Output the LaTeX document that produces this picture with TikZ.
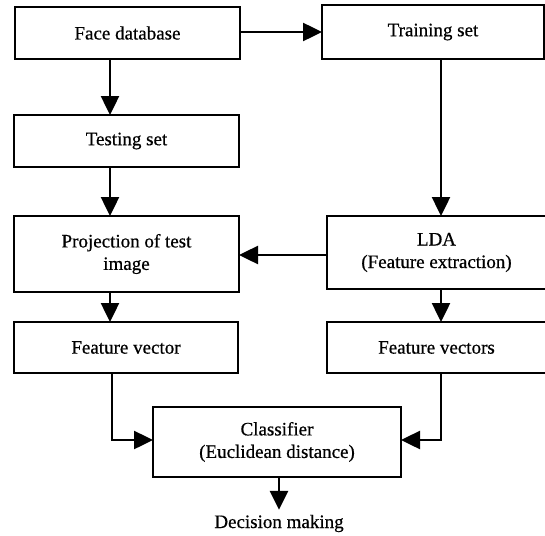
\documentclass[tikz,border=0pt]{standalone}
\usepackage{fontspec}
\setmainfont{Liberation Serif}
\newfontfamily\heavyserif{Liberation Serif}[FakeBold=0.6]
\usetikzlibrary{arrows.meta}
\begin{document}
\begin{tikzpicture}[x=1pt,y=-1pt,
  box/.style={draw,line width=2.5pt,inner sep=0pt,outer sep=0pt,align=center,
    font=\heavyserif\fontsize{19}{22.5}\selectfont},
  conn/.style={line width=2.5pt,-{Triangle[length=19pt,width=18pt]}},
  label/.style={inner sep=5pt,outer sep=0pt,font=\heavyserif\fontsize{19}{22.5}\selectfont}
]
\useasboundingbox (0,0) rectangle (545,535);
\node[box,minimum width=225pt,minimum height=52pt] (fdb) at (127.5,33) {Face database};
\node[box,minimum width=222pt,minimum height=54pt] (train) at (433,32) {Training set};
\node[box,minimum width=225pt,minimum height=52pt] (test) at (126.5,141) {Testing set};
\node[box,minimum width=225pt,minimum height=76pt] (proj) at (126.5,254) {Projection of test\\image};
\node[box,minimum width=219pt,minimum height=73pt] (lda) at (436.5,252.5) {LDA\\(Feature extraction)};
\node[box,minimum width=224pt,minimum height=51pt] (fv) at (126,347.5) {Feature vector};
\node[box,minimum width=219pt,minimum height=51pt] (fvs) at (436.5,347.5) {Feature vectors};
\node[box,minimum width=248pt,minimum height=70pt] (cls) at (277,442) {Classifier\\(Euclidean distance)};
\node[label,anchor=base] (dec) at (279,528) {Decision making};

\coordinate (lx) at (110,0);
\coordinate (lx2) at (112,0);
\coordinate (rx) at (441,0);
\coordinate (dx) at (279,0);
\coordinate (ty) at (0,32);
\coordinate (my) at (0,255);
\coordinate (cy) at (0,440);

\draw[conn] (fdb.south -| lx) -- (test.north -| lx);
\draw[conn] (fdb.east |- ty) -- (train.west |- ty);
\draw[conn] (test.south -| lx) -- (proj.north -| lx);
\draw[conn] (train.south -| rx) -- (lda.north -| rx);
\draw[conn] (lda.west |- my) -- (proj.east |- my);
\draw[conn] (proj.south -| lx) -- (fv.north -| lx);
\draw[conn] (lda.south -| rx) -- (fvs.north -| rx);
\draw[conn] (fv.south -| lx2) |- (cls.west |- cy);
\draw[conn] (fvs.south -| rx) |- (cls.east |- cy);
\draw[conn] (cls.south -| dx) -- (dec.north -| dx);
\end{tikzpicture}
\end{document}
